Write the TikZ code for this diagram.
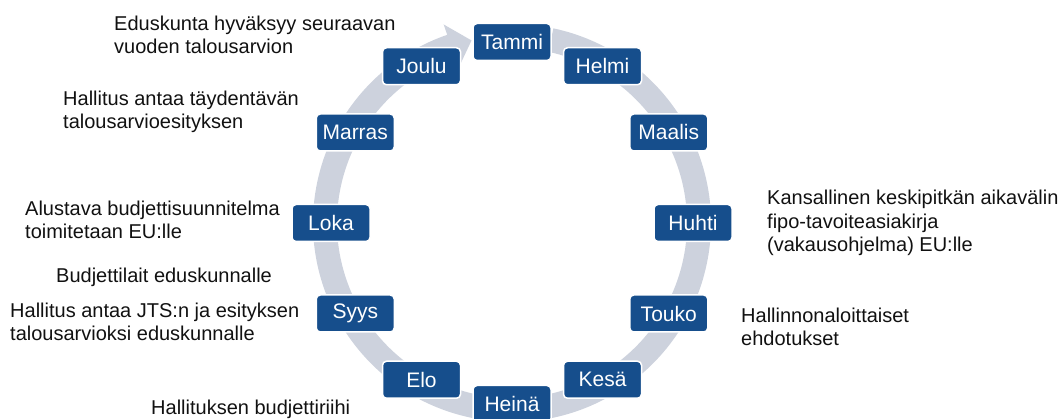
\documentclass[tikz,border=0pt]{standalone}
\usepackage{fontspec}
\setmainfont{Liberation Sans}
\usetikzlibrary{calc}
\definecolor{Kuukausi}{HTML}{164E8C}
\definecolor{Rengas}{HTML}{CDD2DD}
\definecolor{Teksti}{HTML}{111111}

\tikzset{
	kuukausi/.style={
		draw=white,
		line width=1.5pt,
		fill=Kuukausi,
		rounded corners=4pt,
		minimum width=78pt,
		minimum height=37pt,
		inner sep=0pt,
		text=white,
		font=\fontsize{21}{24}\selectfont
	},
	selite/.style={
		anchor=base west,
		align=left,
		inner sep=0pt,
		text=Teksti,
		font=\fontsize{20}{23.5}\selectfont
	}
}

\begin{document}
\begin{tikzpicture}[x=1pt,y=1pt]
	\useasboundingbox (0,0) rectangle (1064,419);
	\coordinate (keski) at (512,196);
	
	% harmaa kiertava nuoli
	\fill[Rengas] ($(keski)+(78:199)$) arc[start angle=78, end angle=-251, radius=199]
		-- ($(keski)+(109:210)$) -- ($(keski)+(102.5:187)$) -- ($(keski)+(109:164)$)
		-- ($(keski)+(109:175)$) arc[start angle=-251, end angle=78, radius=175] -- cycle;
	
	% kuukaudet
	\node[kuukausi] (tammi)  at ($(keski)+(90:181)$)  {Tammi};
	\node[kuukausi] (helmi)  at ($(keski)+(60:181)$)  {Helmi};
	\node[kuukausi] (maalis) at ($(keski)+(30:181)$)  {Maalis};
	\node[kuukausi] (huhti)  at ($(keski)+(0:181)$)   {Huhti};
	\node[kuukausi] (touko)  at ($(keski)+(-30:181)$) {Touko};
	\node[kuukausi] (kesa)   at ($(keski)+(-60:181)$) {Kesä};
	\node[kuukausi] (heina)  at ($(keski)+(-90:181)$) {Heinä};
	\node[kuukausi] (elo)    at ($(keski)+(-120:181)$) {Elo};
	\node[kuukausi] (syys)   at ($(keski)+(-150:181)$) {Syys};
	\node[kuukausi] (loka)   at ($(keski)+(180:181)$) {Loka};
	\node[kuukausi] (marras) at ($(keski)+(150:181)$) {Marras};
	\node[kuukausi] (joulu)  at ($(keski)+(120:181)$) {Joulu};
	
	% selitteet (base = viimeisen rivin pohjaviiva)
	\node[selite] (eduskunta) at (114,365) {Eduskunta hyväksyy seuraavan\\vuoden talousarvion};
	\node[selite] (taydentava) at (63,290) {Hallitus antaa täydentävän\\talousarvioesityksen};
	\node[selite] (alustava) at (25,180) {Alustava budjettisuunnitelma\\toimitetaan EU:lle};
	\node[selite] (budjettilait) at (56,136) {Budjettilait eduskunnalle};
	\node[selite] (jts) at (10,78) {Hallitus antaa JTS:n ja esityksen\\talousarvioksi eduskunnalle};
	\node[selite] (riihi) at (151,4) {Hallituksen budjettiriihi};
	\node[selite] (vakaus) at (767,167) {Kansallinen keskipitkän aikavälin\\fipo-tavoiteasiakirja\\(vakausohjelma) EU:lle};
	\node[selite] (ehdotukset) at (741,73) {Hallinnonaloittaiset\\ehdotukset};
\end{tikzpicture}
\end{document}
